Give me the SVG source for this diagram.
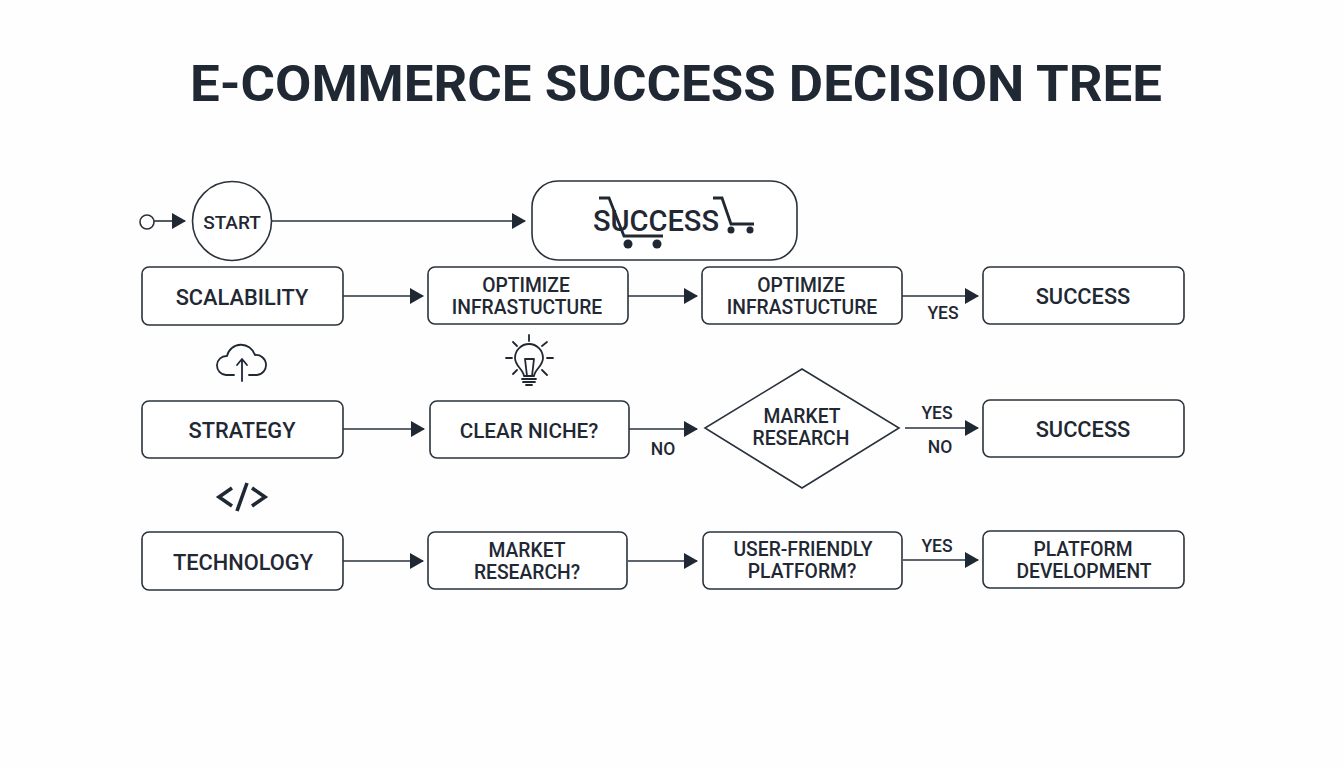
<svg xmlns="http://www.w3.org/2000/svg" width="1344" height="768" viewBox="0 0 1344 768">
<style>
.n{fill:#fff;stroke:#2a323c;stroke-width:1.6}
.t{font-family:Roboto,"Liberation Sans",sans-serif;font-weight:500;font-size:21.8px;fill:#1f2833;text-anchor:middle;transform:translateY(.8px)}
.s{font-size:19.3px}
.l{font-size:17.5px;font-weight:500}
.c{fill:none;stroke:#2a323c;stroke-width:1.6}
.i{fill:none;stroke:#1f2833;stroke-width:1.8;stroke-linecap:round;stroke-linejoin:round}
.cart{fill:none;stroke:#1f2833;stroke-width:2.8}
.d{fill:#1f2833}
</style>
<defs>
<marker id="a" markerUnits="userSpaceOnUse" markerWidth="14" markerHeight="16" refX="13" refY="8" orient="auto"><path d="M0 0L14 8L0 16Z" fill="#1f2833"/></marker>
</defs>
<rect width="1344" height="768" fill="#fefefe"/>
<text id="title" x="676" y="101" text-anchor="middle" font-family="Roboto,'Liberation Sans',sans-serif" font-weight="700" font-size="50" fill="#1f2833" textLength="972" lengthAdjust="spacingAndGlyphs">E-COMMERCE SUCCESS DECISION TREE</text>
<g id="connectors" class="c">
<path d="M154 221H185" marker-end="url(#a)"/>
<path d="M272 221H525" marker-end="url(#a)"/>
<path d="M343 296H423" marker-end="url(#a)"/>
<path d="M628 296H697" marker-end="url(#a)"/>
<path d="M902 296H978" marker-end="url(#a)"/>
<path d="M343 429H424" marker-end="url(#a)"/>
<path d="M629 429H697" marker-end="url(#a)"/>
<path d="M905 428H978" marker-end="url(#a)"/>
<path d="M343 561H423" marker-end="url(#a)"/>
<path d="M628 561H697" marker-end="url(#a)"/>
<path d="M903 560H978" marker-end="url(#a)"/>
</g>
<g id="entry"><circle class="n" cx="147" cy="222" r="7"/></g>
<g id="start"><circle class="n" cx="232" cy="221" r="39.5"/><text class="t" style="font-size:19px" x="232" y="228">START</text></g>
<g id="success-top"><rect class="n" x="532" y="181" width="265" height="79" rx="26"/>
<text class="t" x="656" y="230" style="font-size:30px;font-weight:500" textLength="126" lengthAdjust="spacingAndGlyphs">SUCCESS</text>
<path class="cart" d="M599 198H609L624 236H663"/><circle class="d" cx="628" cy="244" r="4.5"/><circle class="d" cx="657" cy="244" r="4.5"/>
<path class="cart" d="M713 198H722L731 224H754"/><circle class="d" cx="731" cy="230" r="3.5"/><circle class="d" cx="750" cy="230" r="3.5"/></g>
<g id="scalability"><rect class="n" x="142" y="267" width="201" height="58" rx="7"/><text class="t" x="242" y="304">SCALABILITY</text></g>
<g id="opt1"><rect class="n" x="428" y="267" width="200" height="57" rx="7"/><text class="t s" x="526" y="291">OPTIMIZE</text><text class="t s" x="527" y="313">INFRASTUCTURE</text></g>
<g id="opt2"><rect class="n" x="702" y="267" width="200" height="57" rx="7"/><text class="t s" x="801" y="291">OPTIMIZE</text><text class="t s" x="802" y="313">INFRASTUCTURE</text></g>
<g id="success1"><rect class="n" x="983" y="267" width="201" height="57" rx="7"/><text class="t" x="1083" y="303">SUCCESS</text></g>
<text class="t l" x="943" y="318">YES</text>
<g id="icon-cloud"><path class="i" d="M234 375H226A9.5 9.5 0 0 1 227 356A14.5 14.5 0 0 1 255 355A10 10 0 0 1 257 375H249"/><path class="i" d="M242 381V360M237 365L242 359L247 365"/></g>
<g id="icon-bulb"><path class="i" d="M524 376C523 369 515 366 515 358A14 14 0 0 1 543 358C543 366 535 369 534 376ZM527 376L525 359H534L532 376"/><path class="i" d="M522 379H536M523 382H535M526 385H532M529 335V341M513 342L517 346M547 342L542 346M506 358H512M547 358H553M513 374L517 370M547 375L542 370"/></g>
<g id="strategy"><rect class="n" x="142" y="401" width="201" height="57" rx="7"/><text class="t" x="242" y="437">STRATEGY</text></g>
<g id="niche"><rect class="n" x="430" y="401" width="199" height="57" rx="7"/><text class="t" style="font-size:20.7px" x="529" y="437">CLEAR NICHE?</text></g>
<text class="t l" x="663" y="454">NO</text>
<g id="market-diamond"><path class="n" d="M802 369L899 428L802 488L705 428Z"/><text class="t s" x="802" y="422">MARKET</text><text class="t s" x="801" y="444">RESEARCH</text></g>
<text class="t l" x="937" y="418">YES</text>
<text class="t l" x="940" y="452">NO</text>
<g id="success2"><rect class="n" x="983" y="400" width="201" height="57" rx="7"/><text class="t" x="1083" y="436">SUCCESS</text></g>
<g id="icon-code"><path d="M232 488L219 497L232 506M252 488L265 497L252 506M247 483L237 511" fill="none" stroke="#1f2833" stroke-width="3.6"/></g>
<g id="technology"><rect class="n" x="142" y="532" width="201" height="58" rx="7"/><text class="t" x="243" y="569">TECHNOLOGY</text></g>
<g id="market-q"><rect class="n" x="428" y="532" width="199" height="57" rx="7"/><text class="t s" x="527" y="556">MARKET</text><text class="t s" x="527" y="578">RESEARCH?</text></g>
<g id="platform-q"><rect class="n" x="703" y="532" width="199" height="57" rx="7"/><text class="t s" x="803" y="555">USER-FRIENDLY</text><text class="t s" x="802" y="577">PLATFORM?</text></g>
<text class="t l" x="937" y="551">YES</text>
<g id="platform-dev"><rect class="n" x="983" y="531" width="201" height="57" rx="7"/><text class="t s" x="1083" y="555">PLATFORM</text><text class="t s" x="1084" y="577">DEVELOPMENT</text></g>
</svg>
